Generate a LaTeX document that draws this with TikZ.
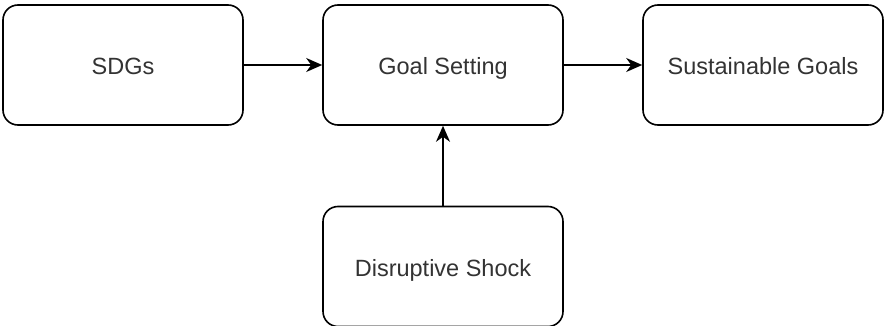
\documentclass[tikz,border=0pt]{standalone}
\usepackage{fontspec}
\setmainfont{Liberation Sans}
\usetikzlibrary{arrows.meta}
\definecolor{txt}{RGB}{51,51,51}
\begin{document}
\begin{tikzpicture}[x=1pt,y=-1pt,
  box/.style={draw=black, line width=1.6pt, rounded corners=15pt, fill=white,
    minimum width=240pt, minimum height=120pt, inner sep=0pt,
    text height=19pt, text depth=0pt,
    font=\fontsize{23.5}{27}\selectfont, text=txt},
  link/.style={line width=1.6pt, -{Stealth[length=16pt,width=14pt,inset=5pt]}}]
  \useasboundingbox (0,0) rectangle (885,326);
  \node[box] (sdg)   at (123,65)  {SDGs};
  \node[box] (goal)  at (443,65)  {Goal Setting};
  \node[box] (sus)   at (763,65)  {Sustainable Goals};
  \node[box] (shock) at (443,266.5) {Disruptive Shock};
  \draw[link] (sdg) -- (goal);
  \draw[link] (goal) -- (sus);
  \draw[link] (shock) -- (goal);
\end{tikzpicture}
\end{document}
